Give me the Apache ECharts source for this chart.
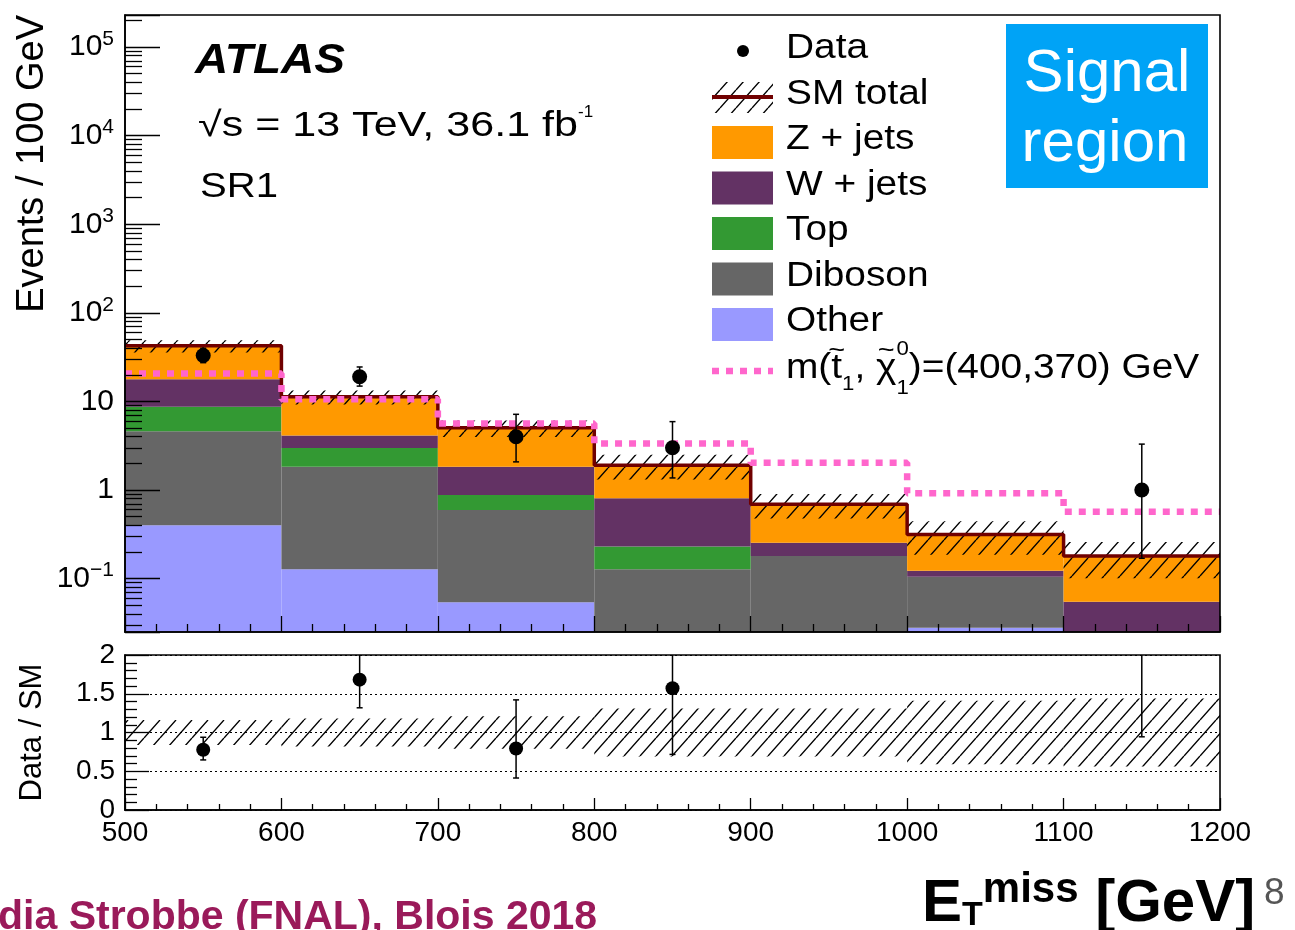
<!DOCTYPE html>
<html>
<head>
<meta charset="utf-8">
<title>SR1 missing transverse momentum</title>
<script src="https://cdn.jsdelivr.net/npm/echarts@6.0.0/dist/echarts.min.js"></script>
<style>
  html, body { margin: 0; padding: 0; background: #ffffff; }
  #chart { width: 1295px; height: 930px; }
</style>
</head>
<body>
<div id="chart"></div>
<script>
// ---------- binning (GeV) ----------
const binLow = [500, 600, 700, 800, 900, 1000, 1100];
const binWidth = 100;

// ---------- SM background estimates per bin (events / 100 GeV) ----------
const otherBkg   = [0.40, 0.128, 0.054, 0,     0,     0.028, 0];
const dibosonBkg = [4.2,  1.70,  0.54,  0.128, 0.18,  0.077, 0];
const topBkg     = [4.1,  1.15,  0.285, 0.102, 0,     0,     0];
const wjetsBkg   = [9.1,  1.16,  0.95,  0.58,  0.075, 0.018, 0.055];
const zjetsBkg   = [24.6, 7.16,  3.21,  1.10,  0.435, 0.193, 0.125];

// relative total uncertainty on the SM prediction
const smRelUnc = [0.16, 0.18, 0.21, 0.31, 0.31, 0.41, 0.44];

// ---------- observed data with 68% CL Poisson intervals ----------
const dataCounts  = [33, 19, 4, 3, 0, 0, 1];
const dataErrLow  = [27.4, 14.9, 2.08, 1.37, 0, 0, 0.17];
const dataErrHigh = [39.8, 24.5, 7.16, 5.92, 0, 0, 3.30];

// ---------- benchmark signal m(stop, neutralino) = (400, 370) GeV ----------
const signalYield = [20.7, 10.6, 5.65, 3.36, 2.03, 0.92, 0.57];

// ---------- axis settings ----------
const ratioTicks = [0, 0.5, 1, 1.5, 2];

const FONT = '"Liberation Sans", Arial, Helvetica, sans-serif';
const INK = '#000000';
const Y_MIN = 0.025, Y_MAX = 2.3e5;

// stacking order, bottom to top
const stackDefs = [
  { name: 'Other',    values: otherBkg,   color: '#9999ff' },
  { name: 'Diboson',  values: dibosonBkg, color: '#666666' },
  { name: 'Top',      values: topBkg,     color: '#339933' },
  { name: 'W + jets', values: wjetsBkg,   color: '#633264' },
  { name: 'Z + jets', values: zjetsBkg,   color: '#ff9900' }
];

// ---------- helpers ----------
const measureCtx = document.createElement('canvas').getContext('2d');
function measure(str, size, weight, style) {
  measureCtx.font = (style || 'normal') + ' ' + (weight || 'normal') + ' ' + size + 'px ' + FONT;
  return measureCtx.measureText(str).width;
}

function textEl(str, x, cy, size, opt) {
  opt = opt || {};
  const align = opt.align || 'left';
  return {
    type: 'text', x: x, y: cy, scaleX: opt.scaleX || 1, rotation: opt.rotation || 0,
    z: 100, silent: true,
    style: {
      text: str, fontSize: size, fontFamily: FONT,
      fontWeight: opt.weight || 'normal', fontStyle: opt.style || 'normal',
      fill: opt.fill || INK,
      align: align, verticalAlign: 'middle', textAlign: align, textVerticalAlign: 'middle'
    }
  };
}

// lays out text pieces (sub/superscripts, accents) from left to right
function textRun(x0, pieces, common) {
  common = common || {};
  const out = [];
  let x = x0, prevX = x0, prevW = 0;
  pieces.forEach(function (p) {
    const sx = p.scaleX || common.scaleX || 1;
    const weight = p.weight || common.weight;
    const style = p.style || common.style;
    const w = measure(p.t, p.size, weight, style) * sx;
    const px = p.over ? prevX + (prevW - w) / 2 : x;
    out.push(textEl(p.t, px, p.cy, p.size, { scaleX: sx, weight: weight, style: style, fill: p.fill || common.fill }));
    if (!p.over && !p.keep) { prevX = x; prevW = w; x += w; }
  });
  return out;
}

function hatchPattern() {
  const w = 16, h = 18;
  const c = document.createElement('canvas');
  c.width = w; c.height = h;
  const g = c.getContext('2d');
  g.strokeStyle = '#000';
  g.lineWidth = 1.4;
  g.beginPath();
  [-w, 0, w].forEach(function (o) { g.moveTo(o, h); g.lineTo(o + w, 0); });
  g.stroke();
  return { type: 'pattern', image: c, repeat: 'repeat' };
}
const HATCH = hatchPattern();

function rectItem(fill) {
  return function (params, api) {
    const a = api.coord([api.value(0), api.value(3)]);
    const b = api.coord([api.value(1), api.value(2)]);
    return {
      type: 'rect',
      shape: { x: a[0], y: a[1], width: b[0] - a[0], height: b[1] - a[1] },
      style: { fill: fill, stroke: null }
    };
  };
}

function errorBarItem(params, api) {
  const x = api.value(0);
  const lo = api.coord([x, api.value(1)]);
  const hi = api.coord([x, api.value(2)]);
  const st = { stroke: INK, lineWidth: 1.5 };
  return {
    type: 'group',
    children: [
      { type: 'line', shape: { x1: lo[0], y1: lo[1], x2: hi[0], y2: hi[1] }, style: st },
      { type: 'line', shape: { x1: lo[0] - 3, y1: lo[1], x2: lo[0] + 3, y2: lo[1] }, style: st },
      { type: 'line', shape: { x1: hi[0] - 3, y1: hi[1], x2: hi[0] + 3, y2: hi[1] }, style: st }
    ]
  };
}

function stepPoints(vals) {
  const pts = binLow.map(function (x, i) { return [x, vals[i]]; });
  pts.push([binLow[binLow.length - 1] + binWidth, vals[vals.length - 1]]);
  return pts;
}

// ---------- stacked backgrounds ----------
const cum = binLow.map(function () { return 0; });
const stackSeries = stackDefs.map(function (def) {
  const items = [];
  binLow.forEach(function (x0, i) {
    const lo = cum[i], hi = lo + def.values[i];
    cum[i] = hi;
    if (def.values[i] > 0 && hi > Y_MIN) items.push([x0, x0 + binWidth, Math.max(lo, Y_MIN), hi]);
  });
  return {
    type: 'custom', name: def.name, xAxisIndex: 0, yAxisIndex: 0, clip: true, silent: true,
    z: 2, renderItem: rectItem(def.color), data: items
  };
});
const smTotal = cum.slice();

const bandMain = binLow.map(function (x0, i) {
  return [x0, x0 + binWidth, Math.max(smTotal[i] * (1 - smRelUnc[i]), Y_MIN), smTotal[i] * (1 + smRelUnc[i])];
});
const bandRatio = binLow.map(function (x0, i) {
  return [x0, x0 + binWidth, 1 - smRelUnc[i], 1 + smRelUnc[i]];
});

const dataPts = [], dataErr = [], ratioPts = [], ratioErr = [];
binLow.forEach(function (x0, i) {
  if (dataCounts[i] <= 0) return;
  const xc = x0 + binWidth / 2;
  dataPts.push([xc, dataCounts[i]]);
  dataErr.push([xc, dataErrLow[i], dataErrHigh[i]]);
  ratioPts.push([xc, dataCounts[i] / smTotal[i]]);
  ratioErr.push([xc, dataErrLow[i] / smTotal[i], dataErrHigh[i] / smTotal[i]]);
});

// minor tick positions of the logarithmic axis (2..9 x 10^k)
const logMinorTicks = [];
for (let e = -2; e <= 5; e++) {
  for (let m = 2; m <= 9; m++) {
    const v = m * Math.pow(10, e);
    if (v > Y_MIN && v < Y_MAX) logMinorTicks.push(v);
  }
}

// ---------- axes ----------
const lineSt = { color: INK, width: 1.6 };
const tickSt = { color: INK, width: 1.3 };

function xAxisFor(grid, showLabels, major, minor) {
  return {
    type: 'value', gridIndex: grid, min: 500, max: 1200, interval: 100, z: 10,
    axisLine: { show: true, onZero: false, lineStyle: lineSt },
    axisTick: { show: true, inside: true, length: major, lineStyle: tickSt },
    minorTick: { show: true, splitNumber: 5, length: minor, lineStyle: tickSt },
    axisLabel: {
      show: showLabels, fontSize: 28, fontFamily: FONT, color: INK, margin: 9,
      formatter: function (v) { return String(v); }
    },
    splitLine: { show: false }
  };
}

const option = {
  animation: false,
  backgroundColor: '#ffffff',
  textStyle: { fontFamily: FONT },
  grid: [
    { left: 125, right: 75, top: 15, height: 617, show: true, z: 10, backgroundColor: 'transparent',
      borderColor: INK, borderWidth: 1.6, containLabel: false, outerBoundsMode: 'none' },
    { left: 125, right: 75, top: 655, height: 155, show: true, z: 10, backgroundColor: 'transparent',
      borderColor: INK, borderWidth: 1.6, containLabel: false, outerBoundsMode: 'none' }
  ],
  xAxis: [xAxisFor(0, false, 16, 8), xAxisFor(1, true, 12, 6)],
  yAxis: [
    {
      type: 'log', logBase: 10, gridIndex: 0, min: Y_MIN, max: Y_MAX, z: 10, position: 'left',
      axisLine: { show: true, lineStyle: lineSt },
      axisTick: { show: true, inside: true, length: 35, lineStyle: tickSt },
      minorTick: { show: false },
      splitLine: { show: false },
      axisLabel: {
        margin: 11,
        formatter: function (v) {
          const l = Math.log10(v), e = Math.round(l);
          if (Math.abs(l - e) > 0.01) return '';
          if (e === 0) return '{b|1}';
          if (e === 1) return '{b|10}';
          return '{b|10}{s|' + (e < 0 ? '\u2212' + (-e) : e) + '}';
        },
        rich: {
          b: { fontSize: 30, fontFamily: FONT, color: INK },
          s: { fontSize: 21, fontFamily: FONT, color: INK, padding: [0, 0, 16, 0] }
        }
      }
    },
    {
      // minor ticks of the log axis
      type: 'log', logBase: 10, gridIndex: 0, min: Y_MIN, max: Y_MAX, z: 10, position: 'left', offset: 0,
      axisLine: { show: false },
      axisTick: { show: true, inside: true, length: 17, lineStyle: tickSt, customValues: logMinorTicks },
      axisLabel: { show: false },
      splitLine: { show: false }
    },
    {
      type: 'value', gridIndex: 1, min: ratioTicks[0], max: ratioTicks[ratioTicks.length - 1],
      interval: ratioTicks[1] - ratioTicks[0], z: 10,
      axisLine: { show: true, lineStyle: lineSt },
      axisTick: { show: true, inside: true, length: 24, lineStyle: tickSt },
      minorTick: { show: true, splitNumber: 5, length: 12, lineStyle: tickSt },
      axisLabel: { fontSize: 28, fontFamily: FONT, color: INK, margin: 10 },
      splitLine: { show: true, lineStyle: { color: INK, width: 1, type: [2, 3] } },
      name: 'Data / SM', nameLocation: 'middle', nameGap: 77, nameRotate: 90,
      nameTextStyle: { fontSize: 31, fontFamily: FONT, color: INK }
    }
  ],
  series: stackSeries.concat([
    {
      type: 'custom', name: 'SM uncertainty', xAxisIndex: 0, yAxisIndex: 0, clip: true, silent: true, z: 3,
      renderItem: rectItem(HATCH), data: bandMain
    },
    {
      type: 'line', name: 'SM total', xAxisIndex: 0, yAxisIndex: 0, step: 'end', silent: true, z: 4,
      symbol: 'none', showSymbol: false, data: stepPoints(smTotal),
      lineStyle: { color: '#700000', width: 3.5 }
    },
    {
      type: 'line', name: 'Signal', xAxisIndex: 0, yAxisIndex: 0, step: 'end', silent: true, z: 5,
      symbol: 'none', showSymbol: false, data: stepPoints(signalYield),
      lineStyle: { color: '#ff66cc', width: 6.5, type: [7, 7] }
    },
    {
      type: 'custom', name: 'Data errors', xAxisIndex: 0, yAxisIndex: 0, clip: true, silent: true, z: 6,
      renderItem: errorBarItem, data: dataErr
    },
    {
      type: 'scatter', name: 'Data', xAxisIndex: 0, yAxisIndex: 0, silent: true, z: 7,
      symbol: 'circle', symbolSize: 15, itemStyle: { color: INK, opacity: 1 }, data: dataPts
    },
    {
      type: 'custom', name: 'Ratio band', xAxisIndex: 1, yAxisIndex: 2, clip: true, silent: true, z: 3,
      renderItem: rectItem(HATCH), data: bandRatio
    },
    {
      type: 'custom', name: 'Ratio errors', xAxisIndex: 1, yAxisIndex: 2, clip: true, silent: true, z: 6,
      renderItem: errorBarItem, data: ratioErr
    },
    {
      type: 'scatter', name: 'Ratio', xAxisIndex: 1, yAxisIndex: 2, silent: true, clip: true, z: 7,
      symbol: 'circle', symbolSize: 14, itemStyle: { color: INK, opacity: 1 }, data: ratioPts
    }
  ])
};

// ---------- annotations and legend ----------
const g = [];

// y-axis title of the upper panel
g.push(textEl('Events / 100 GeV', 33, 15, 38, { rotation: Math.PI / 2, align: 'right' }));

// ATLAS label block
g.push(textEl('ATLAS', 195, 61, 42, { weight: 'bold', style: 'italic', scaleX: 150 / measure('ATLAS', 42, 'bold', 'italic') }));
const lumiMain = '\u221As = 13 TeV, 36.1 fb';
const lumiScale = 380 / measure(lumiMain, 35);
g.push.apply(g, textRun(198, [
  { t: lumiMain, size: 35, cy: 126 },
  { t: '-1', size: 17, cy: 112, scaleX: 1.0 }
], { scaleX: lumiScale }));
g.push(textEl('SR1', 200, 187, 35, { scaleX: 78 / measure('SR1', 35) }));

// legend
const LG_X = 712, LG_W = 61, LG_H = 33, LG_TX = 786, LG_SIZE = 35, LG_SX = 1.11;
g.push({ type: 'circle', shape: { cx: 743, cy: 51, r: 6 }, style: { fill: INK }, z: 100, silent: true });
g.push(textEl('Data', LG_TX, 48, LG_SIZE, { scaleX: LG_SX }));
g.push({ type: 'rect', shape: { x: LG_X, y: 82, width: LG_W, height: 31 }, style: { fill: HATCH }, z: 100, silent: true });
g.push({ type: 'line', shape: { x1: LG_X, y1: 97, x2: LG_X + LG_W, y2: 97 }, style: { stroke: '#700000', lineWidth: 4 }, z: 101, silent: true });
g.push(textEl('SM total', LG_TX, 94, LG_SIZE, { scaleX: LG_SX }));
stackDefs.slice().reverse().forEach(function (def, k) {
  const top = 126 + k * 45.5;
  g.push({ type: 'rect', shape: { x: LG_X, y: top, width: LG_W, height: LG_H }, style: { fill: def.color }, z: 100, silent: true });
  g.push(textEl(def.name, LG_TX, top + 13.5, LG_SIZE, { scaleX: LG_SX }));
});
g.push({ type: 'line', shape: { x1: LG_X, y1: 371, x2: LG_X + LG_W, y2: 371 },
  style: { stroke: '#ff66cc', lineWidth: 6.5, lineDash: [7, 7] }, z: 100, silent: true });
g.push.apply(g, textRun(LG_TX, [
  { t: 'm(', size: LG_SIZE, cy: 368 },
  { t: 't', size: LG_SIZE, cy: 368 },
  { t: '~', size: 26, cy: 351, over: true },
  { t: '1', size: 20, cy: 384 },
  { t: ', ', size: LG_SIZE, cy: 368 },
  { t: '\u03C7', size: LG_SIZE, cy: 368 },
  { t: '~', size: 26, cy: 351, over: true },
  { t: '0', size: 20, cy: 349, keep: true },
  { t: '1', size: 20, cy: 388 },
  { t: ')=(400,370) GeV', size: LG_SIZE, cy: 368 }
], { scaleX: LG_SX }));

// signal region tag
g.push({ type: 'rect', shape: { x: 1006, y: 24, width: 202, height: 164 }, style: { fill: '#00a3f6' }, z: 100, silent: true });
g.push(textEl('Signal', 1107, 74, 60, { align: 'center', fill: '#ffffff' }));
g.push(textEl('region', 1105, 144, 60, { align: 'center', fill: '#ffffff' }));

// x-axis title
g.push.apply(g, textRun(922, [
  { t: 'E', size: 60, cy: 904 },
  { t: 'T', size: 34, cy: 916 },
  { t: 'miss', size: 42, cy: 890 },
  { t: ' [GeV]', size: 60, cy: 904 }
], { weight: 'bold' }));

// page footer
g.push(textEl('8', 1264, 894, 37, { fill: '#555555' }));
g.push(textEl('dia Strobbe (FNAL), Blois 2018', -2, 918, 41, { weight: 'bold', fill: '#9a1a5a' }));

option.graphic = { elements: g };

const chart = echarts.init(document.getElementById('chart'), null, { renderer: 'canvas' });
chart.setOption(option);
</script>
</body>
</html>
